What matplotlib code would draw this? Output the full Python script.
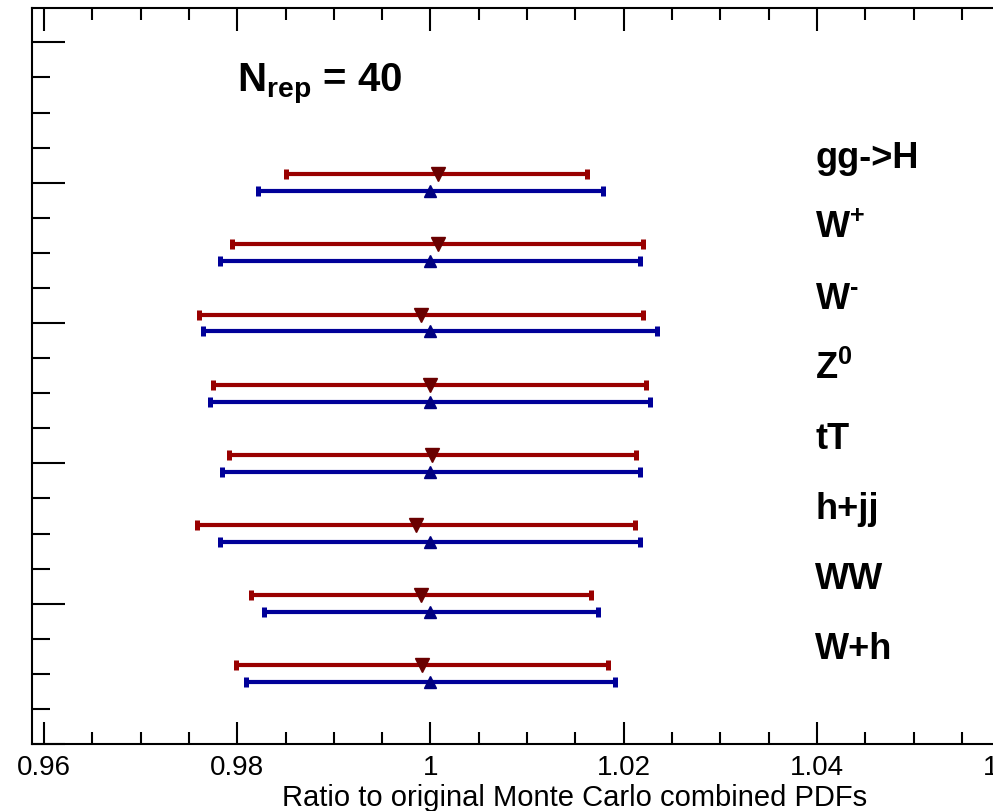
import matplotlib
matplotlib.use("Agg")
import matplotlib.pyplot as plt
import numpy as np

plt.rcParams['font.family'] = ['Liberation Sans', 'DejaVu Sans']
plt.rcParams['mathtext.fontset'] = 'custom'
plt.rcParams['mathtext.rm'] = 'Liberation Sans:bold'
plt.rcParams['mathtext.bf'] = 'Liberation Sans:bold'
plt.rcParams['mathtext.it'] = 'Liberation Sans:italic'
plt.rcParams['mathtext.default'] = 'bf'

# Processes, listed top to bottom
processes = ['gg->H', r'W$^{+}$', r'W$^{\text{-}}$', r'Z$^{0}$', 'tT', 'h+jj', 'WW', 'W+h']

# Reduced set (red): central value and interval edges
red_central = [1.00078, 1.00078, 0.99902, 1.00000, 1.00016, 0.99850, 0.99902, 0.99912]
red_low = [0.98504, 0.97946, 0.97604, 0.97749, 0.97914, 0.97583, 0.98142, 0.97987]
red_high = [1.01620, 1.02199, 1.02199, 1.02230, 1.02127, 1.02116, 1.01661, 1.01837]

# Original combined set (blue)
blue_central = [1.0, 1.0, 1.0, 1.0, 1.0, 1.0, 1.0, 1.0]
blue_low = [0.98215, 0.97821, 0.97645, 0.97718, 0.97842, 0.97821, 0.98277, 0.98091]
blue_high = [1.01785, 1.02168, 1.02344, 1.02271, 1.02168, 1.02168, 1.01734, 1.01910]

x_ticks = [0.96, 0.98, 1.00, 1.02, 1.04, 1.06]
x_tick_labels = ['0.96', '0.98', '1', '1.02', '1.04', '1.06']

W, H = 993, 812
fig = plt.figure(figsize=(W / 100, H / 100), dpi=100)
ax = fig.add_axes([32 / W, 1 - 745 / H, (1022.2 - 32) / W, (745 - 9) / H])

n = len(processes)
rows = np.arange(n, 0, -1).astype(float)
red_y = rows + 0.12
blue_y = rows - 0.12

rc = np.array(red_central)
bc = np.array(blue_central)
red_err = [rc - np.array(red_low), np.array(red_high) - rc]
blue_err = [bc - np.array(blue_low), np.array(blue_high) - bc]

ax.errorbar(rc, red_y, xerr=red_err, fmt='v', color='#990000',
            ecolor='#990000', mfc='#6a0000', mec='#6a0000', ms=10.5,
            elinewidth=3.0, capsize=3.3, capthick=3.6, zorder=3)
ax.errorbar(bc, blue_y, xerr=blue_err, fmt='^', color='#000099',
            ecolor='#000099', mfc='#000080', mec='#000080', ms=8,
            elinewidth=3.0, capsize=3.3, capthick=3.6, zorder=3)

for lab, r in zip(processes, rows):
    ax.text(1.0398, r + 0.22, lab, fontsize=26, fontweight='bold',
            ha='left', va='baseline')

ax.text(0.98, 9.31, r'N$_{\mathbf{rep}}$ = 40', fontsize=29, fontweight='bold',
        ha='left', va='baseline')

ax.set_xlim(0.958758, 1.061242)
ax.set_ylim(0.02, 10.49)

ax.set_xticks(x_ticks)
ax.set_xticklabels(x_tick_labels, fontsize=20)
ax.set_xticks(np.arange(0.96, 1.0601, 0.005), minor=True)
ax.set_yticks(np.arange(0, 10.01, 2))
ax.set_yticks(np.arange(0, 10.01, 0.5), minor=True)
ax.set_yticklabels([])

ax.tick_params(axis='x', which='major', direction='in', length=16.2, width=1.5,
               top=True, bottom=True, pad=7)
ax.tick_params(axis='x', which='minor', direction='in', length=8.6, width=1.5,
               top=True, bottom=True)
ax.tick_params(axis='y', which='major', direction='in', length=23.8, width=1.5,
               left=True, right=False)
ax.tick_params(axis='y', which='minor', direction='in', length=13, width=1.5,
               left=True, right=False)

for s in ax.spines.values():
    s.set_linewidth(1.5)

fig.text(575 / W, 1 - 798 / H, 'Ratio to original Monte Carlo combined PDFs',
         fontsize=21, ha='center', va='center')

fig.savefig('out.png', dpi=100)
